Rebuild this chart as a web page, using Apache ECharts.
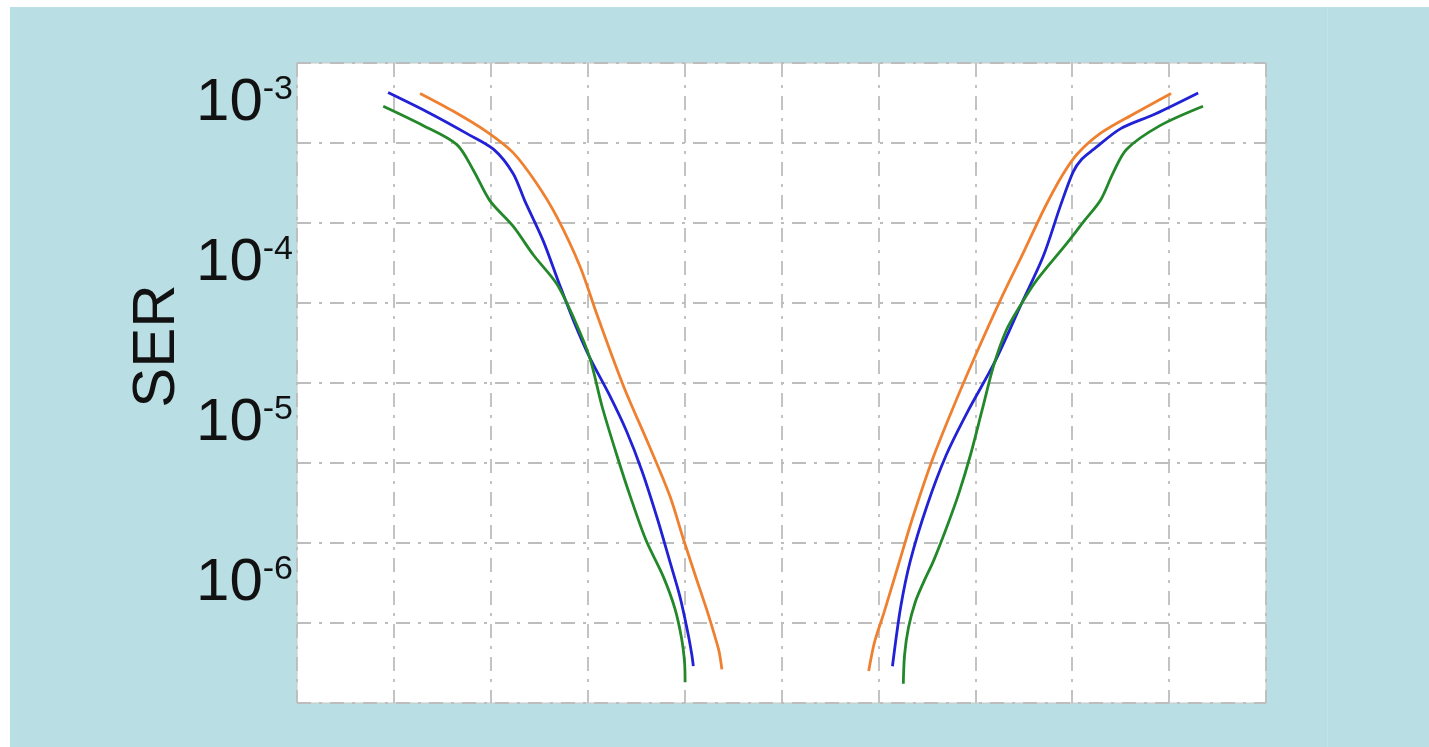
<!DOCTYPE html>
<html>
<head>
<meta charset="utf-8">
<script src="https://cdn.jsdelivr.net/npm/echarts@6/dist/echarts.min.js"></script>
<style>
  html, body { margin: 0; padding: 0; background: #ffffff; }
  #chart { position: absolute; left: 10px; top: 7px; width: 1419px; height: 740px; background: #b9dee3; }
</style>
</head>
<body>
<div id="chart"></div>
<script>
// x: position along the (unlabelled) horizontal axis, 0..10
// y: log10(SER)
const yTickExponents = [-6, -5, -4, -3];

const orangeLeft = [
  [1.27, -2.94], [1.61, -3.05], [1.96, -3.18], [2.23, -3.31], [2.47, -3.50],
  [2.68, -3.71], [2.92, -4.02], [3.10, -4.33], [3.37, -4.77], [3.64, -5.15],
  [3.85, -5.46], [3.99, -5.73], [4.12, -5.97], [4.23, -6.17], [4.33, -6.37],
  [4.36, -6.44], [4.385, -6.54]
];
const blueLeft = [
  [0.94, -2.935], [1.37, -3.064], [1.75, -3.19], [2.03, -3.29], [2.23, -3.44],
  [2.35, -3.61], [2.54, -3.86], [2.70, -4.12], [2.86, -4.37], [3.02, -4.59],
  [3.22, -4.82], [3.40, -5.05], [3.56, -5.30], [3.72, -5.60], [3.85, -5.87],
  [3.95, -6.08], [4.03, -6.30], [4.075, -6.45], [4.09, -6.52]
];
const greenLeft = [
  [0.89, -3.02], [1.30, -3.14], [1.65, -3.26], [1.82, -3.42], [1.99, -3.61],
  [2.23, -3.77], [2.44, -3.95], [2.68, -4.13], [2.86, -4.35], [3.02, -4.59],
  [3.15, -4.90], [3.30, -5.20], [3.44, -5.46], [3.60, -5.73], [3.78, -5.96],
  [3.90, -6.16], [3.97, -6.35], [4.00, -6.50], [4.005, -6.62]
];
const orangeRight = [
  [5.90, -6.55], [5.96, -6.37], [6.06, -6.18], [6.20, -5.90], [6.36, -5.58],
  [6.55, -5.24], [6.76, -4.92], [7.00, -4.58], [7.26, -4.23], [7.50, -3.93],
  [7.72, -3.65], [7.90, -3.45], [8.05, -3.32], [8.29, -3.19], [8.63, -3.07],
  [9.02, -2.94]
];
const blueRight = [
  [6.145, -6.52], [6.23, -6.15], [6.33, -5.86], [6.50, -5.52], [6.70, -5.20],
  [6.92, -4.93], [7.20, -4.62], [7.48, -4.25], [7.70, -3.96], [7.88, -3.64],
  [8.01, -3.43], [8.10, -3.35], [8.22, -3.29], [8.50, -3.16], [8.85, -3.07],
  [9.30, -2.937]
];
const greenRight = [
  [6.257, -6.63], [6.27, -6.45], [6.31, -6.28], [6.38, -6.12], [6.47, -5.99],
  [6.57, -5.86], [6.70, -5.66], [6.83, -5.44], [6.95, -5.20], [7.07, -4.92],
  [7.19, -4.64], [7.32, -4.42], [7.46, -4.27], [7.63, -4.11], [7.94, -3.88],
  [8.12, -3.74], [8.29, -3.61], [8.42, -3.44], [8.56, -3.29], [8.91, -3.14],
  [9.35, -3.02]
];

const COLORS = { orange: '#ef8030', blue: '#2121d6', green: '#23882a' };
const gridStyle = { color: '#bdbdbd', width: 1.8, type: [14, 8, 3, 8] };
const FONT = '"Liberation Sans", Arial, Helvetica, sans-serif';

function lineSeries(name, data, color) {
  return {
    name: name, type: 'line', data: data, xAxisIndex: 0, yAxisIndex: 0,
    smooth: 0.3, showSymbol: false, symbol: 'none',
    lineStyle: { color: color, width: 2.8 }, itemStyle: { color: color },
    z: 3, silent: true
  };
}

const chart = echarts.init(document.getElementById('chart'), null, { renderer: 'canvas' });
chart.setOption({
  backgroundColor: 'transparent',
  animation: false,
  grid: {
    left: 287, top: 56, width: 969, height: 640,
    show: true, backgroundColor: '#ffffff', borderColor: '#c8c8c8', borderWidth: 1
  },
  xAxis: [{
    type: 'value', min: 0, max: 10, interval: 1,
    axisLine: { show: false }, axisTick: { show: false }, axisLabel: { show: false },
    splitLine: { show: true, lineStyle: gridStyle }
  }],
  yAxis: [{
    type: 'value', min: -6.75, max: -2.75, interval: 0.5,
    axisLine: { show: false }, axisTick: { show: false }, axisLabel: { show: false },
    splitLine: { show: true, lineStyle: gridStyle }
  }, {
    type: 'value', min: -6.75, max: -2.75, interval: 0.25, position: 'left', offset: 0,
    axisLine: { show: false }, axisTick: { show: false }, splitLine: { show: false },
    axisLabel: {
      show: true, margin: 4,
      formatter: function (v) {
        const n = Math.round(v);
        if (Math.abs(v - n) > 1e-6 || yTickExponents.indexOf(n) < 0) return '';
        return '{b|10}{s|' + n + '}';
      },
      rich: {
        b: { fontFamily: FONT, fontSize: 60, color: '#111111', lineHeight: 60, verticalAlign: 'middle' },
        s: { fontFamily: FONT, fontSize: 34, color: '#111111', lineHeight: 34, verticalAlign: 'top' }
      }
    }
  }],
  graphic: [{
    type: 'text', x: 147, y: 339, rotation: Math.PI / 2,
    style: { text: 'SER', font: '60px ' + FONT, fill: '#111111', align: 'center', verticalAlign: 'middle' },
    silent: true
  }, {
    type: 'rect', shape: { x: 1317, y: 0, width: 1, height: 740 },
    style: { fill: '#c3e4e8' }, silent: true, z: -1
  }],
  series: [
    lineSeries('orange-left', orangeLeft, COLORS.orange),
    lineSeries('orange-right', orangeRight, COLORS.orange),
    lineSeries('blue-left', blueLeft, COLORS.blue),
    lineSeries('blue-right', blueRight, COLORS.blue),
    lineSeries('green-left', greenLeft, COLORS.green),
    lineSeries('green-right', greenRight, COLORS.green)
  ]
});
</script>
</body>
</html>
